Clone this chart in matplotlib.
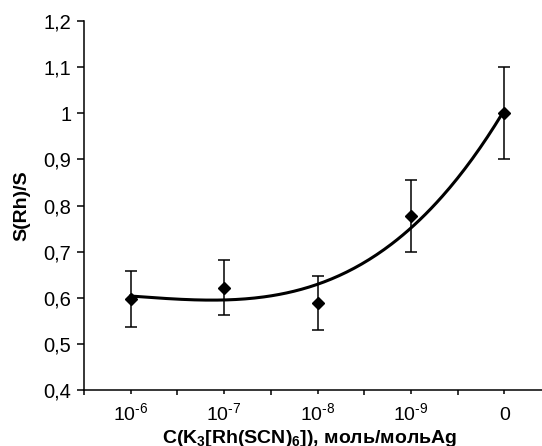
import numpy as np
import matplotlib
matplotlib.use("Agg")
import matplotlib.pyplot as plt
from matplotlib.ticker import FixedLocator, FixedFormatter, NullFormatter

plt.rcParams['font.family'] = ['Liberation Sans', 'DejaVu Sans']
plt.rcParams['mathtext.fontset'] = 'custom'
plt.rcParams['mathtext.rm'] = 'Liberation Sans'
plt.rcParams['mathtext.it'] = 'Liberation Sans:italic'
plt.rcParams['mathtext.bf'] = 'Liberation Sans:bold'

categories = [r"$10^{\text{-}6}$", r"$10^{\text{-}7}$", r"$10^{\text{-}8}$",
              r"$10^{\text{-}9}$", "0"]
values = [0.597, 0.622, 0.589, 0.778, 1.0]
errors = [0.06, 0.06, 0.058, 0.078, 0.10]
y_ticks = [0.4, 0.5, 0.6, 0.7, 0.8, 0.9, 1.0, 1.1, 1.2]
y_tick_labels = ["0,4", "0,5", "0,6", "0,7", "0,8", "0,9", "1", "1,1", "1,2"]

W, H = 542, 446
fig = plt.figure(figsize=(W / 100, H / 100), dpi=100)
ax = fig.add_axes([84 / W, (H - 390) / H, 467 / W, 369 / H])

x = np.arange(1, len(values) + 1)

# cubic polynomial trend line
coef = np.polyfit(x, values, 3)
xs = np.linspace(1, len(values), 200)
ax.plot(xs, np.polyval(coef, xs), color='black', lw=2.2, zorder=2)

ax.errorbar(x, values, yerr=errors, fmt='D', color='black', ms=6.5,
            ecolor='black', elinewidth=1.1, capsize=4, capthick=1.1, zorder=3)

ax.set_xlim(0.5, len(values) + 0.5)
ax.set_ylim(0.4, 1.2)
ax.spines['top'].set_visible(False)
ax.spines['right'].set_visible(False)
ax.spines['left'].set_linewidth(1.1)
ax.spines['bottom'].set_linewidth(1.1)

ax.yaxis.set_major_locator(FixedLocator(y_ticks))
ax.yaxis.set_major_formatter(FixedFormatter(y_tick_labels))
ax.tick_params(axis='y', direction='out', length=5, width=1.1, labelsize=14.5, pad=4)

ax.xaxis.set_major_locator(FixedLocator(x))
ax.xaxis.set_major_formatter(FixedFormatter(categories))
ax.xaxis.set_minor_locator(FixedLocator(np.arange(0.5, len(values) + 1, 1.0)))
ax.xaxis.set_minor_formatter(NullFormatter())
ax.tick_params(axis='x', which='major', direction='out', length=3, width=1.1,
               labelsize=14, pad=18.5)
ax.tick_params(axis='x', which='minor', direction='out', length=3.5, width=1.1)
for lab in ax.get_xticklabels():
    lab.set_verticalalignment('baseline')

ax.set_ylabel("S(Rh)/S", fontsize=14, fontweight='bold', va='center')
ax.yaxis.set_label_coords(-62 / 467, 0.5)

fig.text(310 / W, 3 / H, r"C(K$_\mathbf{3}$[Rh(SCN)$_\mathbf{6}$]), моль/мольAg",
         fontsize=14, fontweight='bold', ha='center', va='baseline')

fig.savefig("out.png", dpi=100)
